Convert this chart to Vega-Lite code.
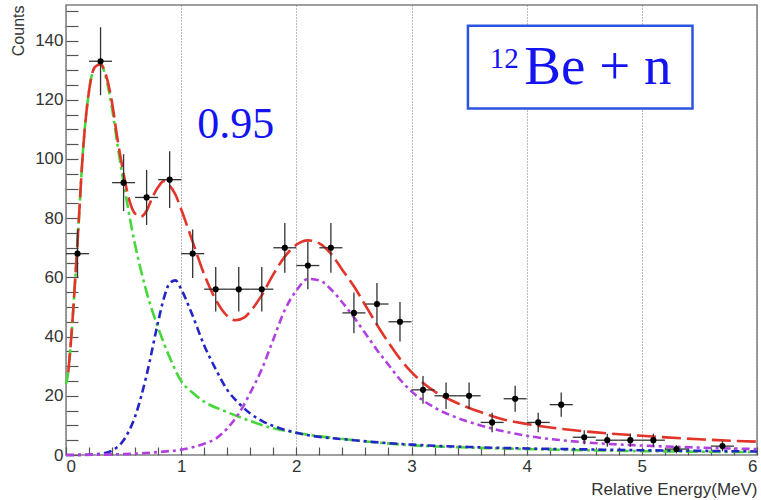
{
  "$schema": "https://vega.github.io/schema/vega-lite/v6.json",
  "width": 691,
  "height": 450,
  "autosize": "none",
  "padding": {"left": 66, "top": 5, "right": 4, "bottom": 45},
  "background": "white",
  "config": {
    "view": {"stroke": "#808080", "strokeWidth": 1.5},
    "axis": {"labelFont": "Liberation Sans", "titleFont": "Liberation Sans", "labelColor": "#333", "titleColor": "#333", "tickColor": "#555", "tickWidth": 1.2, "domain": false, "titleFontWeight": "normal", "labelOverlap": false}
  },
  "datasets": {
    "points": [
      {"E": 0.1, "N": 68, "lo": 59.8, "hi": 76.2, "Elo": 0.0, "Ehi": 0.2},
      {"E": 0.3, "N": 133, "lo": 121.5, "hi": 144.5, "Elo": 0.2, "Ehi": 0.4},
      {"E": 0.5, "N": 92, "lo": 82.4, "hi": 101.6, "Elo": 0.4, "Ehi": 0.6},
      {"E": 0.7, "N": 87, "lo": 77.7, "hi": 96.3, "Elo": 0.6, "Ehi": 0.8},
      {"E": 0.9, "N": 93, "lo": 83.4, "hi": 102.6, "Elo": 0.8, "Ehi": 1.0},
      {"E": 1.1, "N": 68, "lo": 59.8, "hi": 76.2, "Elo": 1.0, "Ehi": 1.2},
      {"E": 1.3, "N": 56, "lo": 48.5, "hi": 63.5, "Elo": 1.2, "Ehi": 1.4},
      {"E": 1.5, "N": 56, "lo": 48.5, "hi": 63.5, "Elo": 1.4, "Ehi": 1.6},
      {"E": 1.7, "N": 56, "lo": 48.5, "hi": 63.5, "Elo": 1.6, "Ehi": 1.8},
      {"E": 1.9, "N": 70, "lo": 61.6, "hi": 78.4, "Elo": 1.8, "Ehi": 2.0},
      {"E": 2.1, "N": 64, "lo": 56.0, "hi": 72.0, "Elo": 2.0, "Ehi": 2.2},
      {"E": 2.3, "N": 70, "lo": 61.6, "hi": 78.4, "Elo": 2.2, "Ehi": 2.4},
      {"E": 2.5, "N": 48, "lo": 41.1, "hi": 54.9, "Elo": 2.4, "Ehi": 2.6},
      {"E": 2.7, "N": 51, "lo": 43.9, "hi": 58.1, "Elo": 2.6, "Ehi": 2.8},
      {"E": 2.9, "N": 45, "lo": 38.3, "hi": 51.7, "Elo": 2.8, "Ehi": 3.0},
      {"E": 3.1, "N": 22, "lo": 17.3, "hi": 26.7, "Elo": 3.0, "Ehi": 3.2},
      {"E": 3.3, "N": 20, "lo": 15.5, "hi": 24.5, "Elo": 3.2, "Ehi": 3.4},
      {"E": 3.5, "N": 20, "lo": 15.5, "hi": 24.5, "Elo": 3.4, "Ehi": 3.6},
      {"E": 3.7, "N": 11, "lo": 7.7, "hi": 14.3, "Elo": 3.6, "Ehi": 3.8},
      {"E": 3.9, "N": 19, "lo": 14.6, "hi": 23.4, "Elo": 3.8, "Ehi": 4.0},
      {"E": 4.1, "N": 11, "lo": 7.7, "hi": 14.3, "Elo": 4.0, "Ehi": 4.2},
      {"E": 4.3, "N": 17, "lo": 12.9, "hi": 21.1, "Elo": 4.2, "Ehi": 4.4},
      {"E": 4.5, "N": 6, "lo": 3.6, "hi": 8.4, "Elo": 4.4, "Ehi": 4.6},
      {"E": 4.7, "N": 5, "lo": 2.8, "hi": 7.2, "Elo": 4.6, "Ehi": 4.8},
      {"E": 4.9, "N": 5, "lo": 2.8, "hi": 7.2, "Elo": 4.8, "Ehi": 5.0},
      {"E": 5.1, "N": 5, "lo": 2.8, "hi": 7.2, "Elo": 5.0, "Ehi": 5.2},
      {"E": 5.3, "N": 2, "lo": 0.6, "hi": 3.4, "Elo": 5.2, "Ehi": 5.4},
      {"E": 5.7, "N": 3, "lo": 1.3, "hi": 4.7, "Elo": 5.6, "Ehi": 5.8}
    ],
    "curves": [
      {"c": "green", "E": 0.0, "N": 24}, {"c": "green", "E": 0.02, "N": 28}, {"c": "green", "E": 0.05, "N": 42}, {"c": "green", "E": 0.1, "N": 72}, {"c": "green", "E": 0.15, "N": 104}, {"c": "green", "E": 0.2, "N": 123}, {"c": "green", "E": 0.25, "N": 131}, {"c": "green", "E": 0.3, "N": 132}, {"c": "green", "E": 0.35, "N": 127}, {"c": "green", "E": 0.4, "N": 117}, {"c": "green", "E": 0.45, "N": 104}, {"c": "green", "E": 0.5, "N": 92}, {"c": "green", "E": 0.6, "N": 71}, {"c": "green", "E": 0.7, "N": 55}, {"c": "green", "E": 0.8, "N": 43}, {"c": "green", "E": 0.9, "N": 33}, {"c": "green", "E": 1.0, "N": 25}, {"c": "green", "E": 1.1, "N": 21}, {"c": "green", "E": 1.2, "N": 18}, {"c": "green", "E": 1.4, "N": 14.5}, {"c": "green", "E": 1.6, "N": 11.5}, {"c": "green", "E": 1.8, "N": 9}, {"c": "green", "E": 2.0, "N": 7.5}, {"c": "green", "E": 2.5, "N": 5}, {"c": "green", "E": 3.0, "N": 3.3}, {"c": "green", "E": 3.5, "N": 2.5}, {"c": "green", "E": 4.0, "N": 2}, {"c": "green", "E": 4.5, "N": 1.6}, {"c": "green", "E": 5.0, "N": 1.3}, {"c": "green", "E": 5.5, "N": 1.1}, {"c": "green", "E": 6.0, "N": 1},
      {"c": "blue", "E": 0.0, "N": 0}, {"c": "blue", "E": 0.2, "N": 0.1}, {"c": "blue", "E": 0.3, "N": 0.4}, {"c": "blue", "E": 0.4, "N": 1.5}, {"c": "blue", "E": 0.5, "N": 5}, {"c": "blue", "E": 0.6, "N": 13}, {"c": "blue", "E": 0.7, "N": 27}, {"c": "blue", "E": 0.8, "N": 45}, {"c": "blue", "E": 0.85, "N": 53}, {"c": "blue", "E": 0.9, "N": 58}, {"c": "blue", "E": 0.95, "N": 59}, {"c": "blue", "E": 1.0, "N": 56}, {"c": "blue", "E": 1.1, "N": 47}, {"c": "blue", "E": 1.2, "N": 37}, {"c": "blue", "E": 1.3, "N": 29}, {"c": "blue", "E": 1.4, "N": 22}, {"c": "blue", "E": 1.5, "N": 17.5}, {"c": "blue", "E": 1.6, "N": 14}, {"c": "blue", "E": 1.7, "N": 11.5}, {"c": "blue", "E": 1.8, "N": 9.8}, {"c": "blue", "E": 2.0, "N": 7.5}, {"c": "blue", "E": 2.5, "N": 5}, {"c": "blue", "E": 3.0, "N": 3.5}, {"c": "blue", "E": 3.5, "N": 2.7}, {"c": "blue", "E": 4.0, "N": 2.2}, {"c": "blue", "E": 4.5, "N": 1.9}, {"c": "blue", "E": 5.0, "N": 1.6}, {"c": "blue", "E": 5.5, "N": 1.4}, {"c": "blue", "E": 6.0, "N": 1.2},
      {"c": "magenta", "E": 0.0, "N": 0}, {"c": "magenta", "E": 0.5, "N": 0.3}, {"c": "magenta", "E": 0.8, "N": 1}, {"c": "magenta", "E": 1.0, "N": 1.8}, {"c": "magenta", "E": 1.1, "N": 2.6}, {"c": "magenta", "E": 1.2, "N": 3.8}, {"c": "magenta", "E": 1.3, "N": 5.5}, {"c": "magenta", "E": 1.4, "N": 9}, {"c": "magenta", "E": 1.5, "N": 14}, {"c": "magenta", "E": 1.6, "N": 21}, {"c": "magenta", "E": 1.7, "N": 29}, {"c": "magenta", "E": 1.8, "N": 39}, {"c": "magenta", "E": 1.9, "N": 49}, {"c": "magenta", "E": 2.0, "N": 55.5}, {"c": "magenta", "E": 2.1, "N": 59.5}, {"c": "magenta", "E": 2.2, "N": 59}, {"c": "magenta", "E": 2.3, "N": 56}, {"c": "magenta", "E": 2.4, "N": 51.5}, {"c": "magenta", "E": 2.5, "N": 46.5}, {"c": "magenta", "E": 2.6, "N": 41}, {"c": "magenta", "E": 2.7, "N": 35.5}, {"c": "magenta", "E": 2.8, "N": 30.5}, {"c": "magenta", "E": 2.9, "N": 25.5}, {"c": "magenta", "E": 3.0, "N": 21.5}, {"c": "magenta", "E": 3.2, "N": 16}, {"c": "magenta", "E": 3.4, "N": 12.5}, {"c": "magenta", "E": 3.6, "N": 10}, {"c": "magenta", "E": 3.8, "N": 8}, {"c": "magenta", "E": 4.0, "N": 6.5}, {"c": "magenta", "E": 4.5, "N": 4.3}, {"c": "magenta", "E": 5.0, "N": 3.2}, {"c": "magenta", "E": 5.5, "N": 2.5}, {"c": "magenta", "E": 6.0, "N": 2},
      {"c": "red", "E": 0.02, "N": 28}, {"c": "red", "E": 0.05, "N": 42}, {"c": "red", "E": 0.1, "N": 72}, {"c": "red", "E": 0.15, "N": 104}, {"c": "red", "E": 0.2, "N": 123}, {"c": "red", "E": 0.25, "N": 131}, {"c": "red", "E": 0.3, "N": 132}, {"c": "red", "E": 0.35, "N": 128}, {"c": "red", "E": 0.4, "N": 119}, {"c": "red", "E": 0.45, "N": 106}, {"c": "red", "E": 0.5, "N": 95}, {"c": "red", "E": 0.55, "N": 86}, {"c": "red", "E": 0.6, "N": 81.5}, {"c": "red", "E": 0.65, "N": 80.5}, {"c": "red", "E": 0.7, "N": 82.5}, {"c": "red", "E": 0.75, "N": 87}, {"c": "red", "E": 0.8, "N": 90.5}, {"c": "red", "E": 0.85, "N": 92.5}, {"c": "red", "E": 0.9, "N": 91}, {"c": "red", "E": 0.95, "N": 88}, {"c": "red", "E": 1.0, "N": 83}, {"c": "red", "E": 1.1, "N": 72}, {"c": "red", "E": 1.2, "N": 61}, {"c": "red", "E": 1.3, "N": 52.5}, {"c": "red", "E": 1.4, "N": 47}, {"c": "red", "E": 1.47, "N": 45.5}, {"c": "red", "E": 1.55, "N": 46.5}, {"c": "red", "E": 1.6, "N": 48.5}, {"c": "red", "E": 1.7, "N": 54}, {"c": "red", "E": 1.8, "N": 61}, {"c": "red", "E": 1.9, "N": 67}, {"c": "red", "E": 2.0, "N": 71}, {"c": "red", "E": 2.1, "N": 72.5}, {"c": "red", "E": 2.2, "N": 71.5}, {"c": "red", "E": 2.3, "N": 68}, {"c": "red", "E": 2.4, "N": 62.5}, {"c": "red", "E": 2.5, "N": 57}, {"c": "red", "E": 2.6, "N": 50.5}, {"c": "red", "E": 2.7, "N": 44}, {"c": "red", "E": 2.8, "N": 38}, {"c": "red", "E": 2.9, "N": 32.5}, {"c": "red", "E": 3.0, "N": 28}, {"c": "red", "E": 3.2, "N": 21.5}, {"c": "red", "E": 3.4, "N": 17.5}, {"c": "red", "E": 3.6, "N": 14.5}, {"c": "red", "E": 3.8, "N": 12}, {"c": "red", "E": 4.0, "N": 10.5}, {"c": "red", "E": 4.5, "N": 8}, {"c": "red", "E": 5.0, "N": 6.5}, {"c": "red", "E": 5.5, "N": 5.3}, {"c": "red", "E": 6.0, "N": 4.5}
    ],
    "box": [{"E": 3.49, "E2": 5.44, "N": 145, "N2": 117}],
    "labels": [
      {"txt": "0.95", "E": 1.14, "N": 107, "size": 44},
      {"txt": "12", "E": 3.68, "N": 130.8, "size": 29},
      {"txt": "Be + n", "E": 3.98, "N": 125.4, "size": 55}
    ]
  },
  "layer": [
    {
      "data": {"name": "box"},
      "mark": {"type": "rect", "fill": "white", "stroke": "#2a55e0", "strokeWidth": 2.5},
      "encoding": {
        "x": {"field": "E", "type": "quantitative", "scale": {"domain": [0, 6], "nice": false},
          "axis": {
            "values": [0,0.2,0.4,0.6,0.8,1,1.2,1.4,1.6,1.8,2,2.2,2.4,2.6,2.8,3,3.2,3.4,3.6,3.8,4,4.2,4.4,4.6,4.8,5,5.2,5.4,5.6,5.8,6],
            "tickCount": 100,
            "offset": -8,
            "labelExpr": "abs(datum.value - round(datum.value)) < 0.01 ? '' + round(datum.value) : ''",
            "labelFontSize": 17, "labelPadding": 3,
            "ticks": true,
            "tickSize": 8,
            "grid": true, "gridColor": "#777", "gridDash": [1, 2], "gridWidth": 1,
            "gridOpacity": {"condition": {"test": "abs(datum.value - round(datum.value)) < 0.01", "value": 1}, "value": 0},
            "title": "Relative Energy(MeV)", "titleFontSize": 17, "titleAnchor": "end", "titleAlign": "right", "titleX": 691, "titleY": 47, "titleBaseline": "alphabetic"
          }},
        "x2": {"field": "E2"},
        "y": {"field": "N", "type": "quantitative", "scale": {"domain": [0, 152], "nice": false},
          "axis": {
            "values": [0,5,10,15,20,25,30,35,40,45,50,55,60,65,70,75,80,85,90,95,100,105,110,115,120,125,130,135,140,145,150],
            "tickCount": 100,
            "offset": -12,
            "labelExpr": "datum.value % 20 === 0 ? '' + datum.value : ''",
            "labelFontSize": 17, "labelPadding": 3,
            "ticks": true,
            "tickSize": 12,
            "grid": false,
            "title": "Counts", "titleFontSize": 16, "titleAngle": -90, "titleAlign": "right", "titleBaseline": "middle", "titleX": -60, "titleY": 0
          }},
        "y2": {"field": "N2"}
      }
    },
    {
      "data": {"name": "curves"},
      "mark": {"type": "line", "interpolate": "monotone", "strokeWidth": 2.6},
      "encoding": {
        "x": {"field": "E", "type": "quantitative"},
        "y": {"field": "N", "type": "quantitative"},
        "color": {"field": "c", "type": "nominal", "legend": null,
          "scale": {"domain": ["green", "blue", "magenta", "red"], "range": ["#45d838", "#2424c8", "#b040e0", "#e3342a"]}},
        "strokeDash": {"field": "c", "type": "nominal", "legend": null,
          "scale": {"domain": ["green", "blue", "magenta", "red"], "range": [[12, 4, 3, 4], [8, 4, 3, 4], [8, 4, 3, 4], [19, 6]]}},
        "order": {"field": "E", "type": "quantitative"}
      }
    },
    {
      "data": {"name": "points"},
      "mark": {"type": "rule", "color": "#333", "strokeWidth": 1.3},
      "encoding": {
        "x": {"field": "E", "type": "quantitative"},
        "y": {"field": "lo", "type": "quantitative"},
        "y2": {"field": "hi"}
      }
    },
    {
      "data": {"name": "points"},
      "mark": {"type": "rule", "color": "#333", "strokeWidth": 1.3},
      "encoding": {
        "x": {"field": "Elo", "type": "quantitative"},
        "x2": {"field": "Ehi"},
        "y": {"field": "N", "type": "quantitative"}
      }
    },
    {
      "data": {"name": "points"},
      "mark": {"type": "circle", "color": "black", "opacity": 1, "size": 38},
      "encoding": {
        "x": {"field": "E", "type": "quantitative"},
        "y": {"field": "N", "type": "quantitative"}
      }
    },
    {
      "data": {"name": "labels"},
      "mark": {"type": "text", "font": "Liberation Serif", "color": "#1414f0", "align": "left", "baseline": "alphabetic"},
      "encoding": {
        "x": {"field": "E", "type": "quantitative"},
        "y": {"field": "N", "type": "quantitative"},
        "text": {"field": "txt"},
        "size": {"field": "size", "type": "quantitative", "scale": null}
      }
    }
  ]
}
